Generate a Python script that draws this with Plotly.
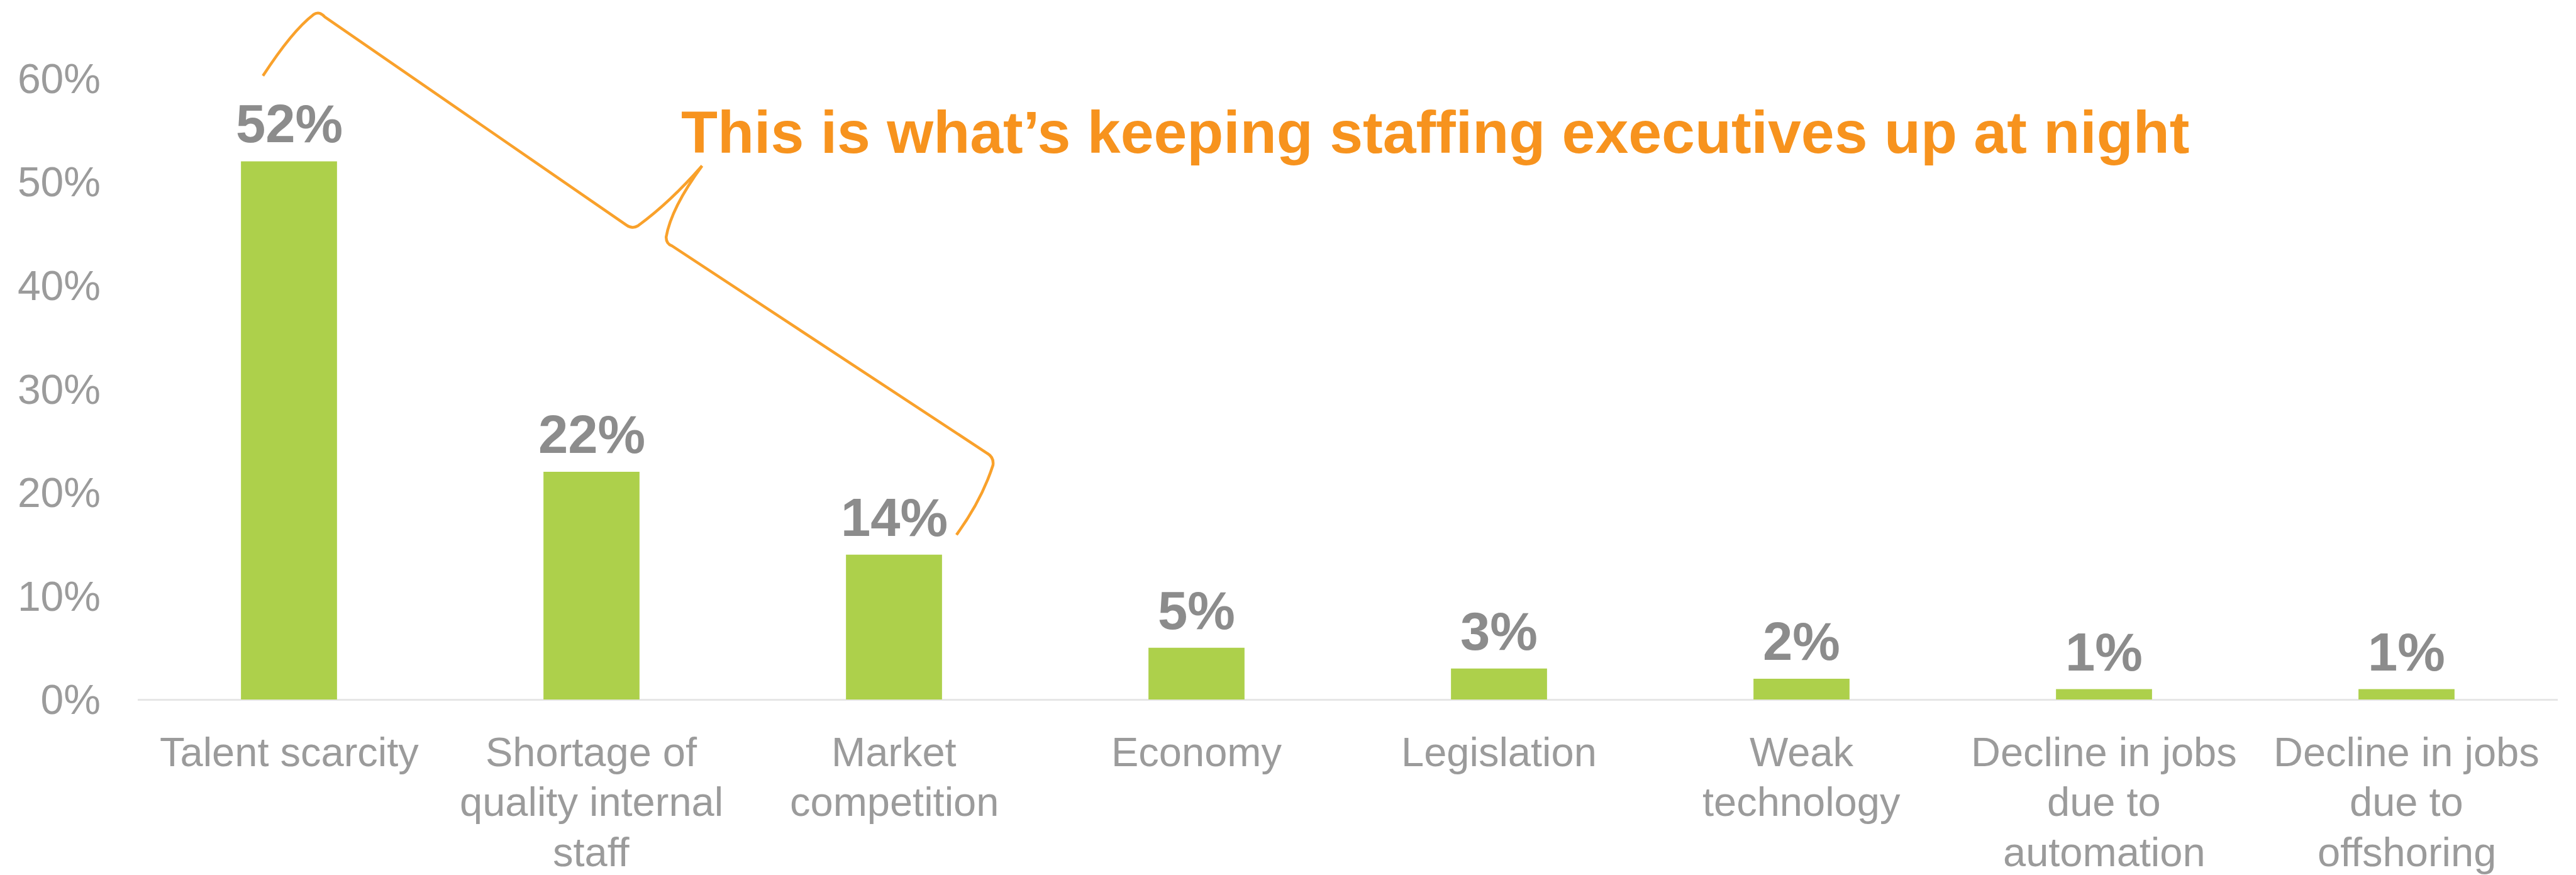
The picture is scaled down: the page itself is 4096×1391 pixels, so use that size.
import plotly.graph_objects as go

# Survey results: share of respondents naming each concern
categories = [
    ["Talent scarcity"],
    ["Shortage of", "quality internal", "staff"],
    ["Market", "competition"],
    ["Economy"],
    ["Legislation"],
    ["Weak", "technology"],
    ["Decline in jobs", "due to", "automation"],
    ["Decline in jobs", "due to", "offshoring"],
]
shares = [0.52, 0.22, 0.14, 0.05, 0.03, 0.02, 0.01, 0.01]
y_ticks = [0.0, 0.1, 0.2, 0.3, 0.4, 0.5, 0.6]
headline = "This is what’s keeping staffing executives up at night"

GREEN = "#ADD04B"
ORANGE_TEXT = "#F7931E"
ORANGE_LINE = "#F9A12B"
VALUE_GRAY = "#8C8C8C"
TICK_GRAY = "#9B9B9B"
FONT = "Liberation Sans, Arial, sans-serif"

positions = list(range(len(categories)))

fig = go.Figure()
fig.add_trace(go.Bar(
    x=positions,
    y=shares,
    marker=dict(color=GREEN, line=dict(width=0)),
    width=0.3175,
    hoverinfo="skip",
))

annotations = []

# value labels above each bar
for xi, v in zip(positions, shares):
    annotations.append(dict(
        x=xi, y=v, xref="x", yref="y",
        text=f"{v:.0%}", showarrow=False,
        xanchor="center", yanchor="bottom", yshift=10,
        font=dict(family=FONT, size=85, color=VALUE_GRAY, weight="bold"),
    ))

# category labels, one line per annotation for tighter leading
LINE_STEP = 79.3
for xi, lines in zip(positions, categories):
    for k, line in enumerate(lines):
        annotations.append(dict(
            x=xi, y=0, xref="x", yref="y",
            text=line, showarrow=False,
            xanchor="center", yanchor="top",
            yshift=-45 - LINE_STEP * k,
            font=dict(family=FONT, size=65, color=TICK_GRAY),
        ))

# headline
annotations.append(dict(
    x=0.224, y=0.762, xref="paper", yref="paper",
    text=headline, showarrow=False,
    xanchor="left", yanchor="bottom",
    font=dict(family=FONT, size=95, color=ORANGE_TEXT, weight="bold"),
))

# curly brace spanning the top three bars, pointing at the headline
brace_path = (
    "M -0.0861,0.6026 "
    "Q 0.0104,0.6460 0.0810,0.6618 "
    "Q 0.0995,0.6656 0.1181,0.6596 "
    "L 1.1163,0.4582 "
    "Q 1.1349,0.4544 1.1534,0.4577 "
    "Q 1.2580,0.4799 1.3656,0.5157 "
    "Q 1.2635,0.4750 1.2468,0.4468 "
    "Q 1.2468,0.4403 1.2672,0.4381 "
    "L 2.3086,0.2378 "
    "Q 2.3309,0.2340 2.3272,0.2264 "
    "Q 2.2901,0.1927 2.2065,0.1591"
)

fig.update_layout(
    width=4096, height=1391,
    margin=dict(l=219, r=29, t=0, b=279, autoexpand=False),
    paper_bgcolor="white",
    plot_bgcolor="white",
    showlegend=False,
    bargap=0.6825,
    annotations=annotations,
    shapes=[dict(
        type="path", xref="x", yref="y", path=brace_path,
        line=dict(color=ORANGE_LINE, width=4.5), fillcolor="rgba(0,0,0,0)",
        layer="above",
    )],
    xaxis=dict(
        range=[-0.5, len(categories) - 0.5],
        tickvals=positions,
        showticklabels=False,
        showgrid=False,
        zeroline=False,
        showline=False,
        ticks="",
    ),
    yaxis=dict(
        range=[0, 0.6759],
        tickvals=y_ticks,
        tickformat=".0%",
        tickfont=dict(family=FONT, size=66, color=TICK_GRAY),
        ticklabelstandoff=58,
        showgrid=False,
        zeroline=True,
        zerolinecolor="#E6E6E6",
        zerolinewidth=2.5,
        showline=False,
        ticks="",
    ),
)

fig.write_html("out.html")
